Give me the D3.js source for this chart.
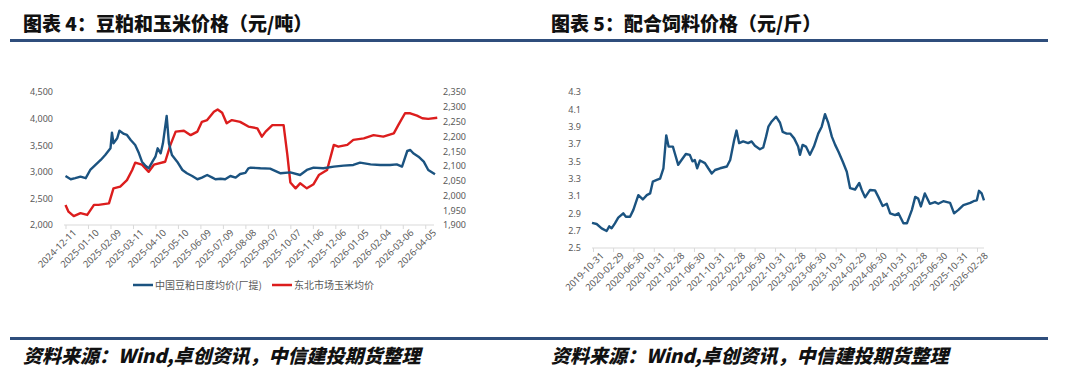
<!DOCTYPE html>
<html><head><meta charset="utf-8">
<script src="https://cdn.jsdelivr.net/npm/d3@7"></script>
<style>
html,body{margin:0;padding:0;background:#fff;}
svg{display:block;}
</style></head>
<body><svg id="c" width="1080" height="380"></svg>
<script>
// ---------- data ----------
const soyDates = ["2024-12-11","2024-12-18","2024-12-24","2024-12-31","2025-01-07","2025-01-13","2025-01-20","2025-01-27","2025-02-02","2025-02-09","2025-02-11","2025-02-13","2025-02-18","2025-02-21","2025-02-27","2025-03-03","2025-03-08","2025-03-14","2025-03-19","2025-03-23","2025-03-28","2025-04-01","2025-04-06","2025-04-10","2025-04-13","2025-04-17","2025-04-20","2025-04-25","2025-04-28","2025-05-02","2025-05-09","2025-05-16","2025-05-22","2025-05-29","2025-06-05","2025-06-11","2025-06-18","2025-06-25","2025-06-29","2025-07-06","2025-07-12","2025-07-19","2025-07-26","2025-08-01","2025-08-08","2025-08-12","2025-08-15","2025-08-28","2025-09-10","2025-09-24","2025-10-07","2025-10-20","2025-10-29","2025-11-07","2025-11-20","2025-12-04","2025-12-17","2025-12-30","2026-01-08","2026-01-22","2026-02-04","2026-02-17","2026-02-26","2026-03-05","2026-03-12","2026-03-16","2026-03-20","2026-03-27","2026-04-03","2026-04-09","2026-04-18"];
const soyValues = [2920,2860,2880,2908,2880,3034,3128,3222,3316,3442,3736,3535,3630,3773,3711,3692,3598,3504,3348,3190,3109,3066,3190,3284,3442,3348,3535,4049,3535,3316,3190,3034,2972,2921,2860,2890,2940,2890,2860,2870,2860,2921,2890,2959,2980,3066,3078,3066,3060,2972,2990,2940,3034,3078,3066,3097,3116,3128,3172,3140,3128,3128,3140,3097,3391,3410,3348,3284,3190,3034,2953];

const cornDates = ["2024-12-11","2024-12-15","2024-12-22","2024-12-31","2025-01-09","2025-01-18","2025-01-24","2025-02-07","2025-02-13","2025-02-22","2025-03-03","2025-03-10","2025-03-14","2025-03-23","2025-04-01","2025-04-08","2025-04-23","2025-04-30","2025-05-07","2025-05-18","2025-05-27","2025-06-05","2025-06-11","2025-06-18","2025-06-27","2025-07-02","2025-07-08","2025-07-14","2025-07-21","2025-08-01","2025-08-12","2025-08-24","2025-08-30","2025-09-04","2025-09-13","2025-09-28","2025-10-03","2025-10-07","2025-10-14","2025-10-20","2025-10-29","2025-11-07","2025-11-14","2025-11-25","2025-12-04","2025-12-10","2025-12-22","2025-12-30","2026-01-13","2026-01-26","2026-02-08","2026-02-22","2026-02-28","2026-03-09","2026-03-16","2026-03-25","2026-04-01","2026-04-09","2026-04-21"];
const cornValues = [1968,1945,1930,1940,1934,1968,1968,1973,2024,2030,2052,2086,2111,2104,2080,2104,2114,2171,2216,2219,2204,2216,2249,2255,2283,2291,2280,2244,2255,2249,2233,2227,2199,2216,2238,2238,2137,2044,2024,2041,2024,2038,2069,2086,2171,2165,2171,2188,2193,2204,2199,2210,2238,2278,2278,2270,2261,2259,2263];

const leftTicksX = ["2024-12-11","2025-01-10","2025-02-09","2025-03-11","2025-04-10","2025-05-10","2025-06-09","2025-07-09","2025-08-08","2025-09-07","2025-10-07","2025-11-06","2025-12-06","2026-01-05","2026-02-04","2026-03-06","2026-04-05"];
const leftTicksY = [2000,2500,3000,3500,4000,4500];
const rightTicksY1 = [1900,1950,2000,2050,2100,2150,2200,2250,2300,2350];

const feedDates = ["2019-10-25","2019-11-22","2019-12-22","2020-01-21","2020-02-06","2020-02-20","2020-03-11","2020-03-31","2020-04-30","2020-05-16","2020-06-10","2020-06-30","2020-07-30","2020-08-26","2020-09-19","2020-10-09","2020-10-25","2020-11-18","2020-12-08","2020-12-28","2021-01-14","2021-01-28","2021-02-23","2021-03-07","2021-03-27","2021-04-16","2021-05-12","2021-06-05","2021-06-21","2021-07-05","2021-07-19","2021-08-05","2021-09-04","2021-09-24","2021-10-15","2021-11-04","2021-12-04","2022-01-14","2022-02-03","2022-02-27","2022-03-13","2022-03-29","2022-04-22","2022-05-22","2022-06-12","2022-07-02","2022-08-01","2022-08-21","2022-09-07","2022-09-21","2022-10-11","2022-11-06","2022-11-30","2022-12-16","2023-01-09","2023-01-30","2023-02-23","2023-03-19","2023-03-30","2023-04-15","2023-05-05","2023-05-29","2023-06-22","2023-07-18","2023-08-08","2023-08-28","2023-09-17","2023-10-08","2023-10-28","2023-11-17","2023-12-13","2024-01-06","2024-01-26","2024-02-25","2024-03-21","2024-04-05","2024-04-25","2024-05-25","2024-06-24","2024-07-14","2024-08-09","2024-09-03","2024-09-23","2024-10-23","2024-11-12","2024-12-12","2025-01-02","2025-02-01","2025-02-21","2025-03-11","2025-03-27","2025-04-20","2025-05-20","2025-06-20","2025-07-10","2025-08-09","2025-09-19","2025-10-13","2025-11-08","2025-12-08","2026-01-18","2026-02-07","2026-02-27","2026-03-12","2026-03-28","2026-04-11"];
const feedValues = [2.79,2.777,2.727,2.696,2.75,2.727,2.785,2.85,2.90,2.86,2.86,2.94,3.11,3.06,3.11,3.13,3.265,3.285,3.30,3.42,3.80,3.67,3.67,3.59,3.46,3.515,3.585,3.575,3.50,3.515,3.42,3.51,3.48,3.42,3.36,3.40,3.42,3.44,3.515,3.745,3.855,3.71,3.73,3.71,3.73,3.68,3.64,3.66,3.785,3.90,3.96,4.015,3.945,3.84,3.82,3.82,3.765,3.67,3.575,3.69,3.67,3.575,3.67,3.82,3.90,4.045,3.94,3.785,3.69,3.61,3.495,3.38,3.19,3.175,3.25,3.17,3.085,3.17,3.165,3.09,2.985,3.01,2.90,2.88,2.90,2.785,2.785,2.94,3.09,3.07,2.98,3.13,3.01,3.03,3.01,3.04,3.02,2.90,2.94,2.995,3.02,3.04,3.05,3.16,3.13,3.05];

const feedTicksX = ["2019-10-31","2020-02-29","2020-06-30","2020-10-31","2021-02-28","2021-06-30","2021-10-31","2022-02-28","2022-06-30","2022-10-31","2023-02-28","2023-06-30","2023-10-31","2024-02-29","2024-06-30","2024-10-31","2025-02-28","2025-06-30","2025-10-31","2026-02-28"];
const feedTicksY = [2.5,2.7,2.9,3.1,3.3,3.5,3.7,3.9,4.1,4.3];

const titles = ["图表 4：豆粕和玉米价格（元/吨）","图表 5：配合饲料价格（元/斤）"];
const sourceText = "资料来源：Wind,卓创资讯，中信建投期货整理";
const legendNames = ["中国豆粕日度均价(厂提)","东北市场玉米均价"];

// ---------- drawing ----------
const parse = d3.utcParse("%Y-%m-%d");
const svg = d3.select("#c");
const BLUE = "#1b5380", RED = "#dc1d1d", RULE = "#2f4e7c", TXT = "#595959", AX = "#d9d9d9";
const CJK = "'Noto Sans CJK SC','Noto Sans',sans-serif";
const NUM = "'Noto Sans','DejaVu Sans',sans-serif";

// titles & rules
svg.append("rect").attr("x",10).attr("y",39).attr("width",1038).attr("height",3).attr("fill",RULE);
svg.append("rect").attr("x",10).attr("y",337).attr("width",1038).attr("height",3).attr("fill",RULE);
[[23,titles[0]],[551,titles[1]]].forEach(([x,t])=>{
  svg.append("text").attr("x",x).attr("y",31).text(t)
    .attr("font-family",CJK).attr("font-weight",900).attr("font-size",19).attr("fill","#111");
});
[23,551].forEach(x=>{
  svg.append("text").attr("x",x).attr("y",363).text(sourceText)
    .attr("font-family",CJK).attr("font-weight",900).attr("font-style","italic")
    .attr("font-size",19).attr("fill","#111");
});

// ----- left chart -----
const xL = d3.scaleUtc().domain([parse("2024-12-09"), parse("2026-04-22")]).range([64, 438]);
const yL = d3.scaleLinear().domain([2000,4500]).range([225,92]);
const yR = d3.scaleLinear().domain([1900,2350]).range([225,92]);
const fmt = d3.format(",");

const gL = svg.append("g");
const axL = gL.append("g").attr("transform","translate(0,225)")
  .call(d3.axisBottom(xL).tickValues(leftTicksX.map(parse)).tickSize(4).tickFormat(d3.utcFormat("%Y-%m-%d")));
axL.select(".domain").attr("stroke",AX).attr("d","M64,0H434");
axL.selectAll(".tick line").attr("stroke",AX);
axL.selectAll(".tick text").attr("font-family",NUM).attr("font-size",9.5).attr("fill",TXT)
  .attr("text-anchor","end").attr("dx","0.2em").attr("dy","0.7em").attr("transform","rotate(-45)");
const ayL = gL.append("g").attr("transform","translate(56,0)")
  .call(d3.axisLeft(yL).tickValues(leftTicksY).tickSize(0).tickFormat(fmt));
ayL.select(".domain").remove();
ayL.selectAll("text").attr("font-family",NUM).attr("font-size",9).attr("fill",TXT);
const ayR = gL.append("g").attr("transform","translate(440,0)")
  .call(d3.axisRight(yR).tickValues(rightTicksY1).tickSize(0).tickFormat(fmt));
ayR.select(".domain").remove();
ayR.selectAll("text").attr("font-family",NUM).attr("font-size",9).attr("fill",TXT);

const soy = soyDates.map((d,i)=>({d:parse(d),v:soyValues[i]}));
const corn = cornDates.map((d,i)=>({d:parse(d),v:cornValues[i]}));
gL.append("path").datum(corn).attr("fill","none").attr("stroke",RED).attr("stroke-width",2.4)
  .attr("stroke-linejoin","round").attr("d",d3.line().x(p=>xL(p.d)).y(p=>yR(p.v)));
gL.append("path").datum(soy).attr("fill","none").attr("stroke",BLUE).attr("stroke-width",2.4)
  .attr("stroke-linejoin","round").attr("d",d3.line().x(p=>xL(p.d)).y(p=>yL(p.v)));

// legend
const lg = [[133,BLUE,legendNames[0]],[272,RED,legendNames[1]]];
lg.forEach(([x,c,t])=>{
  svg.append("line").attr("x1",x).attr("x2",x+20).attr("y1",285).attr("y2",285).attr("stroke",c).attr("stroke-width",2.5);
  svg.append("text").attr("x",x+22).attr("y",289).text(t).attr("font-family",CJK).attr("font-size",10).attr("fill",TXT);
});

// ----- right chart -----
const xF = d3.scaleUtc().domain([parse("2019-10-31"), parse("2026-02-28")]).range([593, 977]);
const yF = d3.scaleLinear().domain([2.5,4.3]).range([248,92]);
const gR = svg.append("g");
const axF = gR.append("g").attr("transform","translate(0,248)")
  .call(d3.axisBottom(xF).tickValues(feedTicksX.map(parse)).tickSize(4).tickFormat(d3.utcFormat("%Y-%m-%d")));
axF.select(".domain").attr("stroke",AX).attr("d","M592,0H984");
axF.selectAll(".tick line").attr("stroke",AX);
axF.selectAll(".tick text").attr("font-family",NUM).attr("font-size",9.5).attr("fill",TXT)
  .attr("text-anchor","end").attr("dx","0.2em").attr("dy","0.7em").attr("transform","rotate(-45)");
const ayF = gR.append("g").attr("transform","translate(584,0)")
  .call(d3.axisLeft(yF).tickValues(feedTicksY).tickSize(0).tickFormat(d3.format(".1f")));
ayF.select(".domain").remove();
ayF.selectAll("text").attr("font-family",NUM).attr("font-size",9).attr("fill",TXT);
const feed = feedDates.map((d,i)=>({d:parse(d),v:feedValues[i]}));
gR.append("path").datum(feed).attr("fill","none").attr("stroke",BLUE).attr("stroke-width",2.4)
  .attr("stroke-linejoin","round").attr("d",d3.line().x(p=>xF(p.d)).y(p=>yF(p.v)));
</script></body></html>
